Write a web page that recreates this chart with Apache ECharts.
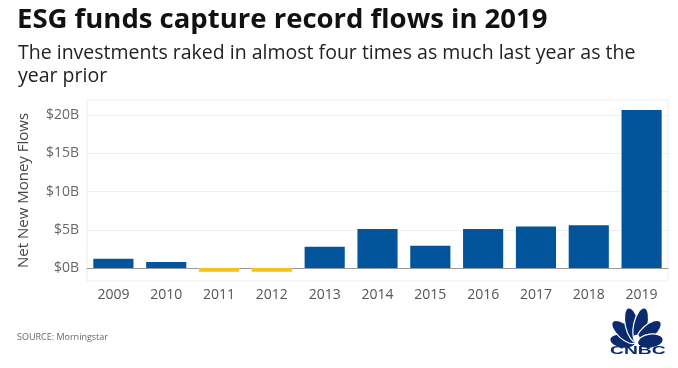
<!DOCTYPE html>
<html><head><meta charset="utf-8">
<script src="https://cdn.jsdelivr.net/npm/echarts@6/dist/echarts.min.js"></script>
<style>html,body{margin:0;padding:0;background:#fff}#c{width:678px;height:368px}</style>
</head><body><div id="c"></div>
<script>
const years = ['2009','2010','2011','2012','2013','2014','2015','2016','2017','2018','2019'];
const flows = [1.2, 0.8, -0.5, -0.5, 2.8, 5.1, 2.9, 5.1, 5.45, 5.6, 20.7];
const yTicks = [0, 5, 10, 15, 20];
const titleText = 'ESG funds capture record flows in 2019';
const subtitleText = 'The investments raked in almost four times as much last year as the\nyear prior';
const sourceText = 'SOURCE: Morningstar';
const yName = 'Net New Money Flows';

const BLUE = '#02559a', YELLOW = '#f5c21b', NAVY = '#0b2a6e';
const font = '"Open Sans", Lato, sans-serif';

const chart = echarts.init(document.getElementById('c'));

const cx = 636.5, cy = 343;
const feathers = [[172, 26], [138, 31], [103, 35], [77, 35], [42, 31], [8, 26]];
const logo = feathers.map(([deg, len]) => {
  const t = deg * Math.PI / 180;
  const d = len / 2 + 1;
  return {
    type: 'ellipse', x: cx + d * Math.cos(t), y: cy - d * Math.sin(t), rotation: t,
    shape: { cx: 0, cy: 0, rx: len / 2, ry: 7 },
    style: { fill: NAVY, stroke: '#fff', lineWidth: 1.2 }
  };
});
logo.push({ type: 'circle', shape: { cx: cx, cy: cy - 5, r: 3.2 }, style: { fill: '#fff' } });
logo.push({ type: 'text', x: 610, y: 345, scaleX: 1.75, style: { text: 'CNBC', font: 'bold 11px "Liberation Sans", Arial, sans-serif', fill: NAVY } });

chart.setOption({
  animation: false,
  textStyle: { fontFamily: font },
  grid: { left: 87, right: 10, top: 100, bottom: 87, show: true, borderColor: '#eeeeee', borderWidth: 1 },
  title: [
    { text: titleText, left: 12, top: 1, textStyle: { fontSize: 27.5, fontWeight: 'bold', color: '#111', fontFamily: font } },
    { text: subtitleText, left: 13, top: 37, textStyle: { fontSize: 19.5, fontWeight: 'normal', color: '#222', lineHeight: 23, fontFamily: font } },
    { text: sourceText, left: 12, top: 328, textStyle: { fontSize: 9, fontWeight: 'normal', color: '#666', fontFamily: font } }
  ],
  xAxis: {
    type: 'category', data: years,
    axisLine: { onZero: true, lineStyle: { color: '#999', width: 1 } },
    axisTick: { show: false },
    axisLabel: { color: '#555', fontSize: 14, margin: 7, fontFamily: font }
  },
  yAxis: {
    type: 'value', min: -1.7, max: 22,
    name: yName, nameLocation: 'middle', nameGap: 56, nameRotate: 90,
    nameTextStyle: { color: '#444', fontSize: 15, fontFamily: font },
    axisLine: { show: false },
    axisTick: { show: false, customValues: yTicks },
    axisLabel: { customValues: yTicks, color: '#666', fontSize: 14, margin: 8, fontFamily: font, formatter: v => '$' + v + 'B' },
    splitLine: { show: true, lineStyle: { color: '#efefef', width: 1 } }
  },
  series: [{
    type: 'bar', barCategoryGap: '24%',
    data: flows.map(v => ({ value: v, itemStyle: { color: v < 0 ? YELLOW : BLUE } }))
  }],
  graphic: logo
});
</script>
</body></html>
